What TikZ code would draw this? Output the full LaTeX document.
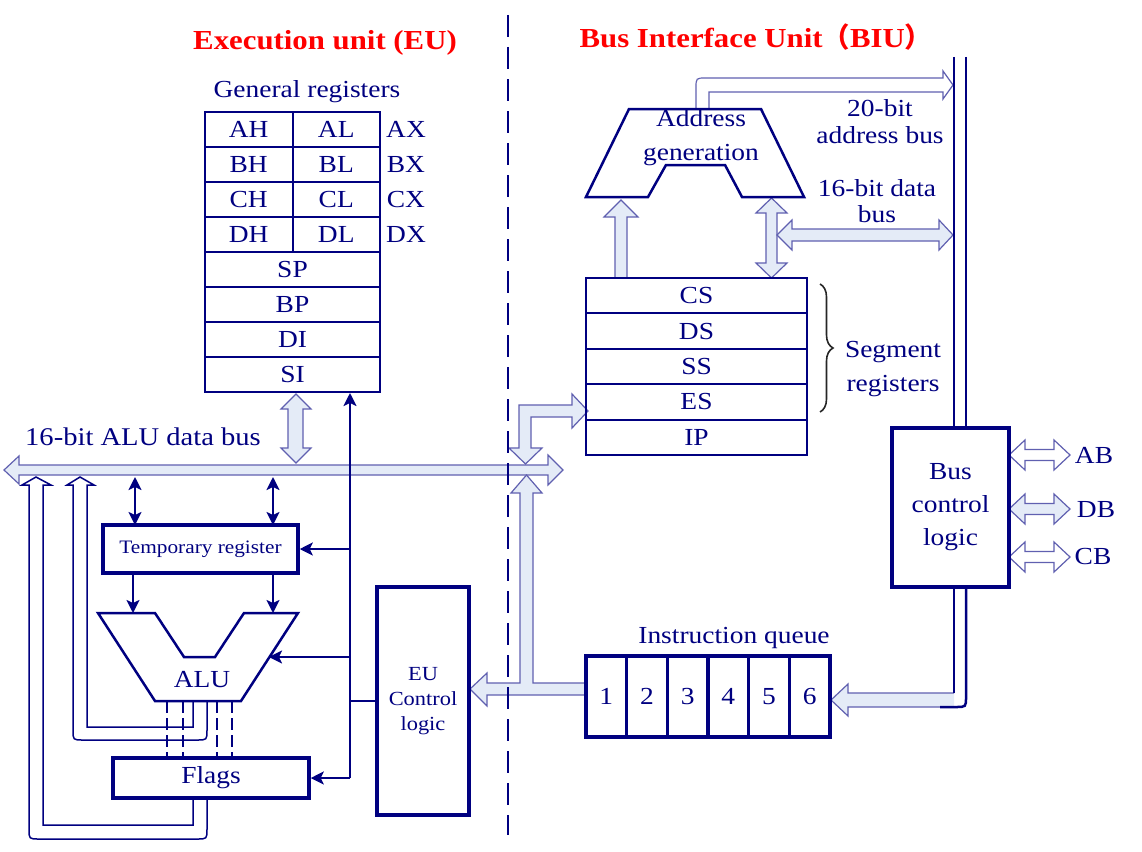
\documentclass[tikz,border=0pt]{standalone}
\usepackage{fontspec}
\setmainfont{Liberation Serif}[FakeStretch=1.12]
\newfontfamily\cjk{Noto Sans CJK SC}
\usetikzlibrary{arrows.meta,decorations.pathreplacing}
\definecolor{navy}{RGB}{0,0,128}
\definecolor{lfill}{RGB}{228,235,247}
\definecolor{aedge}{RGB}{96,96,176}
\definecolor{tred}{RGB}{255,0,0}
\newcommand{\fsz}[2]{\fontsize{#1}{#2}\selectfont}
\begin{document}
\begin{tikzpicture}[x=1pt,y=-1pt,
  lbl/.style={text=navy, font=\fsz{24.5}{30}, inner sep=0pt, anchor=base},
  mlbl/.style={text=navy, inner sep=0pt, align=center, anchor=center},
  ttl/.style={text=tred, font=\bfseries\fsz{27.5}{32}, inner sep=0pt, anchor=base},
  cell/.style={draw=navy, line width=2pt, text=navy, font=\fsz{24.5}{30}, inner sep=0pt, minimum height=35pt},
  hcell/.style={cell, minimum width=87.5pt},
  fcell/.style={cell, minimum width=175pt},
  scell/.style={cell, minimum width=221pt, minimum height=35.4pt},
  qcell/.style={draw=navy, line width=3.5pt, text=navy, font=\fsz{24.5}{30}, inner sep=0pt, minimum width=40.67pt, minimum height=81pt},
  tbox/.style={draw=navy, line width=3.5pt, text=navy, inner sep=0pt, align=center},
  hollow/.style={fill=lfill, draw=aedge, line width=1.2pt},
  whollow/.style={fill=white, draw=aedge, line width=1.2pt},
  wire/.style={draw=navy, line width=2.2pt},
  ctl/.style={wire, -{Stealth[length=13pt,width=13pt,inset=3pt]}},
  ctlb/.style={wire, {Stealth[length=13pt,width=13pt,inset=3pt]}-{Stealth[length=13pt,width=13pt,inset=3pt]}},
  fb/.style={draw=navy, line width=1.5pt},
  busline/.style={draw=navy, line width=2.5pt},
]
\useasboundingbox (0,0) rectangle (1142,851);

% ---------- titles ----------
\node[ttl] (teu) at (325,50) {Execution unit (EU)};
\node[ttl] (tbiu) at (756,48) {Bus Interface Unit{\cjk （}BIU{\cjk ）}};

% ---------- hollow buses and arrows ----------
% ALU data bus
\draw[hollow] (4,470) -- (19,456) -- (19,465) -- (548,465) -- (548,455) -- (563,470) -- (548,485) -- (548,475) -- (19,475) -- (19,484) -- cycle;
% registers <-> ALU bus
\draw[hollow] (296,394) -- (311,409) -- (303,409) -- (303,448) -- (311,448) -- (296,463) -- (281,448) -- (288,448) -- (288,409) -- (281,409) -- cycle;
% ES <-> bus
\draw[hollow] (572,394) -- (588,411) -- (572,428) -- (572,417) -- (531,417) -- (531,448) -- (542,448) -- (525.5,464) -- (509,448) -- (519,448) -- (519,405) -- (572,405) -- cycle;
% queue -> bus and EU control
\draw[hollow] (586,683) -- (533,683) -- (533,493) -- (542,493) -- (526.5,475) -- (511,493) -- (520,493) -- (520,683) -- (487,683) -- (487,673) -- (470,689) -- (487,706) -- (487,695) -- (586,695);
% CS -> address generation
\draw[hollow] (615,278) -- (615,217) -- (604,217) -- (621,200) -- (638,217) -- (627,217) -- (627,278);
% address generation <-> segment registers
\draw[hollow] (771.5,198) -- (787,213) -- (777,213) -- (777,263) -- (787,263) -- (771.5,278) -- (756,263) -- (766,263) -- (766,213) -- (756,213) -- cycle;
% 16-bit data bus
\draw[hollow] (777,235) -- (792,220) -- (792,229) -- (939,229) -- (939,220) -- (953,235) -- (939,250) -- (939,241) -- (792,241) -- (792,250) -- cycle;
% 20-bit address bus
\draw[whollow] (696,109) -- (696,88) .. controls (696,78) .. (706,78) -- (943,78) -- (943,71) -- (953,85) -- (943,99) -- (943,92) -- (709,92) -- (709,109);
% AB DB CB
\foreach \c/\f in {455/white,509/lfill,557/white}{
  \draw[fill=\f, draw=aedge, line width=1.2pt] (1009,\c) -- (1025,\c-15) -- (1025,\c-5.5) -- (1054,\c-5.5) -- (1054,\c-15) -- (1070,\c) -- (1054,\c+15) -- (1054,\c+5.5) -- (1025,\c+5.5) -- (1025,\c+15) -- cycle;
}
% bus -> instruction queue
\filldraw[fill=lfill, draw=aedge, line width=1.2pt] (954,693) -- (848,693) -- (848,684) -- (831,700) -- (848,716) -- (848,707) -- (954,707);

% ---------- right double bus lines ----------
\draw[busline] (954,57) -- (954,428);
\draw[busline] (966,57) -- (966,428);
\draw[busline] (954,587) -- (954,693);
\draw[busline] (966,587) -- (966,697) .. controls (966,707) .. (956,707) -- (940,707);

% ---------- general registers ----------
\node[lbl] (genr) at (307,97) {General registers};
\node[hcell] (AH) at (248.75,129.5) {AH};
\node[hcell] (AL) at (336.25,129.5) {AL};
\node[hcell] (BH) at (248.75,164.5) {BH};
\node[hcell] (BL) at (336.25,164.5) {BL};
\node[hcell] (CH) at (248.75,199.5) {CH};
\node[hcell] (CL) at (336.25,199.5) {CL};
\node[hcell] (DH) at (248.75,234.5) {DH};
\node[hcell] (DL) at (336.25,234.5) {DL};
\node[fcell] (SP) at (292.5,269.5) {SP};
\node[fcell] (BP) at (292.5,304.5) {BP};
\node[fcell] (DI) at (292.5,339.5) {DI};
\node[fcell] (SI) at (292.5,374.5) {SI};
\node[lbl] (AX) at (406,137) {AX};
\node[lbl] (BX) at (406,172) {BX};
\node[lbl] (CX) at (406,207) {CX};
\node[lbl] (DX) at (406,242) {DX};

\node[lbl, font=\fsz{25.5}{30}] (albl) at (143,445) {16-bit ALU data bus};

% ---------- segment registers ----------
\node[scell] (CS) at (696.5,295.7) {CS};
\node[scell] (DS) at (696.5,331.1) {DS};
\node[scell] (SS) at (696.5,366.5) {SS};
\node[scell] (ES) at (696.5,401.9) {ES};
\node[scell] (IP) at (696.5,437.3) {IP};
\draw[decorate, decoration={brace, amplitude=13pt}, line width=1.6pt, black!85] (820,284) -- (820,412);
\node[mlbl, font=\fsz{24.5}{34}] (segl) at (893,369) {Segment\\registers};

% ---------- address generation ----------
\draw[navy, line width=2.5pt] (629,109) -- (761,109) -- (804,197) -- (742,197) -- (725,165) -- (666,165) -- (648,197) -- (586,197) -- cycle;
\node[mlbl, font=\fsz{24.5}{34}] (agen) at (701,138) {Address\\generation};
\node[mlbl, font=\fsz{24.5}{27}] (ab20) at (880,122) {20-bit\\address bus};
\node[mlbl, font=\fsz{24.5}{26}] (db16) at (877,201.5) {16-bit data\\bus};

% ---------- bus control logic ----------
\node[tbox, minimum width=117pt, minimum height=159pt, font=\fsz{24.5}{33}] (bcl) at (950.5,507.5) {Bus\\control\\logic};
\node[lbl] (AB) at (1094,463) {AB};
\node[lbl] (DB) at (1096,517) {DB};
\node[lbl] (CB) at (1093,564) {CB};

% ---------- instruction queue ----------
\node[lbl] (iq) at (734,643) {Instruction queue};
\node[qcell] (q1) at (606.3,696.5) {1};
\node[qcell] (q2) at (647,696.5) {2};
\node[qcell] (q3) at (687.7,696.5) {3};
\node[qcell] (q4) at (728.3,696.5) {4};
\node[qcell] (q5) at (769,696.5) {5};
\node[qcell] (q6) at (809.7,696.5) {6};

% ---------- EU: temp register, ALU, flags, control ----------
\node[tbox, minimum width=195pt, minimum height=48pt, font=\fsz{19}{23}] (temp) at (200.5,549) {Temporary register};
\draw[navy, line width=2.5pt] (98,613) -- (155,613) -- (184,657) -- (215,657) -- (244,613) -- (298,613) -- (241,701) -- (155,701) -- cycle;
\node[lbl] (alu) at (202,687) {ALU};
\node[tbox, minimum width=196pt, minimum height=40pt, font=\fsz{24.5}{30}] (flags) at (211,778) {Flags};
\node[tbox, minimum width=92pt, minimum height=228pt, font=\fsz{20}{25}] (euc) at (423,701) {EU\\Control\\logic};

% feedback loops
\draw[fb] (193,701) -- (193,727) -- (87,727) -- (87,485) -- (94,485) -- (80,477) -- (67,485) -- (73,485) -- (73,730) .. controls (73,740) .. (83,740) -- (197,740) .. controls (207,740) .. (207,730) -- (207,701);
\draw[fb] (193,798) -- (193,825) -- (43,825) -- (43,485) -- (51,485) -- (36,477) -- (22,485) -- (29,485) -- (29,829) .. controls (29,839) .. (39,839) -- (197,839) .. controls (207,839) .. (207,829) -- (207,798);
% ALU -> flags
\foreach \x in {167,183,217,232} \draw[navy, line width=2.2pt, dash pattern=on 12pt off 5pt] (\x,701) -- (\x,758);

% control wires
\coordinate (cv) at (350,778);
\coordinate (aluR) at (269,657);
\draw[ctl] (cv) -- (SI.south -| cv);
\draw[ctl] (temp.east -| cv) -- (temp.east);
\draw[ctl] (aluR -| cv) -- (aluR);
\draw[ctl] (cv) -- (flags.east);
\draw[wire] (euc.west -| cv) -- (euc.west);
\draw[ctlb] (135,477) -- (135,525);
\draw[ctlb] (273,477) -- (273,525);
\draw[ctl] (133,573) -- (133,613);
\draw[ctl] (273,573) -- (273,613);

% ---------- divider ----------
\draw[navy, line width=2pt, dash pattern=on 22pt off 10pt] (508,15) -- (508,835);
\end{tikzpicture}
\end{document}
